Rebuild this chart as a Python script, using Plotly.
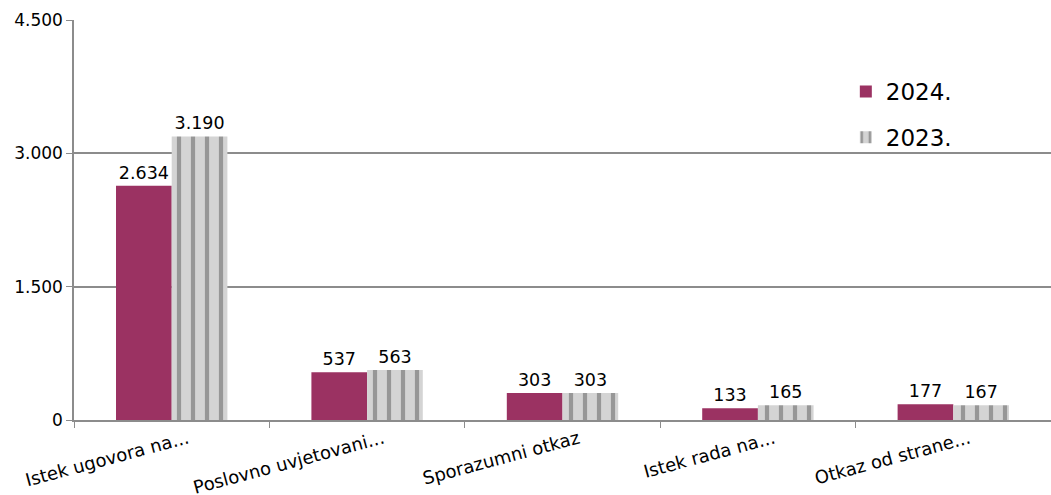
import plotly.graph_objects as go

categories = ["Istek ugovora na...", "Poslovno uvjetovani...", "Sporazumni otkaz",
              "Istek rada na...", "Otkaz od strane..."]
values_2024 = [2634, 537, 303, 133, 177]
values_2023 = [3190, 563, 303, 165, 167]
y_ticks = [0, 1500, 3000, 4500]

font = "DejaVu Sans"

fig = go.Figure()
fig.add_trace(go.Bar(
    x=categories, y=values_2024, name="2024.", legendgroup="a",
    marker=dict(color="#9b3262", line=dict(width=0)),
    texttemplate="%{y:,d}", textposition="outside", cliponaxis=False,
    textfont=dict(size=17.5, color="#000000"),
))
fig.add_trace(go.Bar(
    x=categories, y=values_2023, name="2023.", legendgroup="b",
    marker=dict(color="#d2d2d2", line=dict(width=0),
                pattern=dict(shape="|", fgcolor="#5a5a5a", bgcolor="#d4d4d4",
                             size=14, solidity=0.3)),
    texttemplate="%{y:,d}", textposition="outside", cliponaxis=False,
    textfont=dict(size=17.5, color="#000000"),
))

fig.update_layout(
    width=1051, height=495,
    margin=dict(l=74, r=0, t=20, b=75),
    paper_bgcolor="white", plot_bgcolor="white",
    font=dict(family=font, size=16, color="#000000"),
    separators=",.",
    barmode="group", bargap=0.43, bargroupgap=0,
    showlegend=True,
    legend=dict(x=0.79, y=0.875, xanchor="left", yanchor="top",
                font=dict(size=23), bgcolor="rgba(0,0,0,0)",
                itemwidth=30, traceorder="grouped", tracegroupgap=13),
    xaxis=dict(tickangle=-15, showline=True, linecolor="#8c8c8c", linewidth=1.5,
               ticks="outside", tickson="boundaries", ticklen=6, tickcolor="#8c8c8c",
               tickfont=dict(size=18), ticklabelshift=16, automargin=False),
    yaxis=dict(range=[0, 4500], tickvals=y_ticks, tickformat=",d",
               showgrid=True, gridcolor="#8c8c8c", gridwidth=1.5,
               showline=True, linecolor="#8c8c8c", linewidth=1.5,
               ticks="outside", ticklen=6, tickcolor="#8c8c8c",
               zeroline=False, tickfont=dict(size=17), automargin=False),
)

# page body has a default 8px margin; drop it so the figure fills the window
fig.write_html("out.html", config={"displayModeBar": False},
               post_script="document.body.style.margin='0';")
